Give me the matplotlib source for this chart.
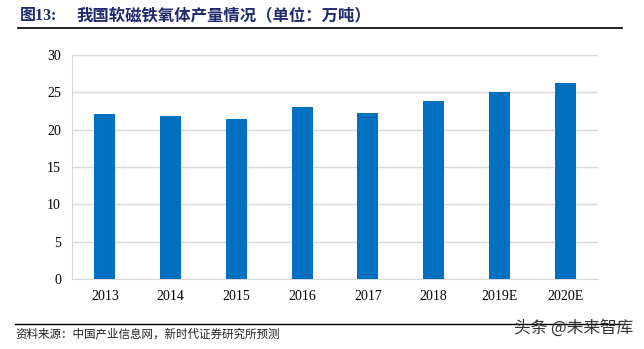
import matplotlib.pyplot as plt
from matplotlib.lines import Line2D

plt.rcParams['font.family'] = ['Noto Sans CJK SC', 'DejaVu Sans']

years = ['2013', '2014', '2015', '2016', '2017', '2018', '2019E', '2020E']
output = [22.05, 21.8, 21.4, 23.0, 22.2, 23.9, 25.0, 26.3]
yticks = [0, 5, 10, 15, 20, 25, 30]

fig = plt.figure(figsize=(6.44, 3.49), dpi=100)
ax = fig.add_axes([0.1118, 0.2006, 0.8168, 0.6418])

x = range(len(years))
ax.bar(x, output, width=0.32, color='#0070C0', zorder=3)
ax.set_xlim(-0.5, len(years) - 0.5)
ax.set_ylim(0, 30)
ax.set_yticks(yticks)
ax.set_xticks(list(x))
ax.set_xticklabels(years)
ax.grid(axis='y', color='#D9D9D9', linewidth=1, zorder=0)
for s in ['top', 'right']:
    ax.spines[s].set_visible(False)
ax.spines['left'].set_color('#D9D9D9')
ax.spines['bottom'].set_color('#D9D9D9')
ax.tick_params(length=0, labelsize=10, pad=8)
for lab in ax.get_xticklabels() + ax.get_yticklabels():
    lab.set_fontfamily('Liberation Serif')

# title and rules
fig.text(0.031, 0.955, '图13:', fontsize=11.5, fontweight='bold', color='#1F2A6B',
         family=['Liberation Serif', 'Noto Sans CJK SC'], va='center')
fig.text(0.119, 0.955, '我国软磁铁氧体产量情况（单位：万吨）', fontsize=11.8,
         fontweight='bold', color='#1F2A6B', va='center')
fig.add_artist(Line2D([0.028, 0.966], [0.920, 0.920], color='black', lw=1.2))
fig.add_artist(Line2D([0.023, 0.966], [0.072, 0.072], color='black', lw=1.0))

fig.text(0.024, 0.042, '资料来源：中国产业信息网，新时代证券研究所预测', fontsize=8.3,
         color='#222222', va='center')
fig.text(0.798, 0.060, '头条 @未来智库', fontsize=12, color='#333333', va='center')

fig.savefig('out.png', dpi=100)
